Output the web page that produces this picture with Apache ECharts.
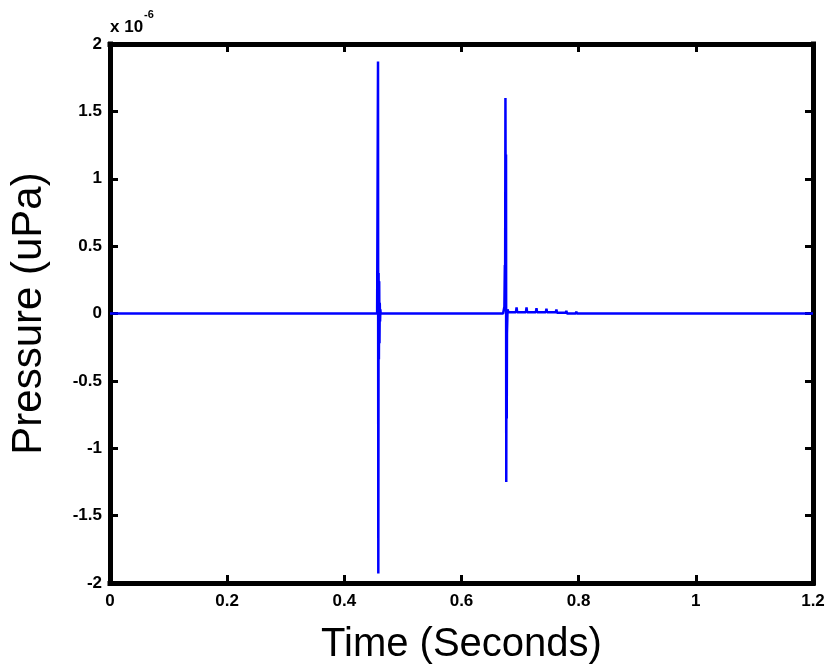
<!DOCTYPE html>
<html><head><meta charset="utf-8">
<script src="https://cdn.jsdelivr.net/npm/echarts@6/dist/echarts.min.js"></script>
<style>html,body{margin:0;padding:0;background:#fff}#c{width:828px;height:670px}</style>
</head><body><div id="c"></div>
<script>
// Time (s) and pressure (x 1e-6 uPa) samples
var timeS = [0, 0.200, 0.2005, 0.201, 0.290, 0.2905, 0.291, 0.4560, 0.4570, 0.4575, 0.4580, 0.4585, 0.4590, 0.4595, 0.4600, 0.4605, 0.4610, 0.4615, 0.4620,
  0.6710, 0.6732, 0.6740, 0.6744, 0.6750, 0.6756, 0.6760, 0.6764, 0.6768, 0.6772, 0.6776, 0.6780, 0.6786, 0.6792, 0.6800, 0.6810,
  0.6930, 0.6940, 0.6950, 0.7100, 0.7110, 0.7120, 0.7270, 0.7280, 0.7290, 0.7440, 0.7450, 0.7460, 0.7610, 0.7620, 0.7630, 0.7780, 0.7790, 0.7800, 0.7950, 0.7960, 0.7970, 0.8500, 0.8510, 0.8520, 1.2];
var pressure = [0, 0, -0.01, 0, 0, -0.01, 0, 0, 0, 1.87, -1.93, 0.30, -0.34, 0.24, -0.22, 0.08, -0.06, 0.03, 0,
  0, 0.05, 0.36, 0.05, 1.60, 0.36, 1.18, -1.25, -0.10, -0.78, -0.15, -0.15, 0.03, 0.03, 0.01, 0.01,
  0.01, 0.045, 0.01, 0.01, 0.045, 0.01, 0.01, 0.04, 0.01, 0.01, 0.035, 0.01, 0.01, 0.03, 0.005, 0.005, 0.02, 0, 0, 0.015, 0, 0, -0.01, 0, 0];
var xTicks = [0, 0.2, 0.4, 0.6, 0.8, 1, 1.2];
var yTicks = [-2, -1.5, -1, -0.5, 0, 0.5, 1, 1.5, 2];

var data = timeS.map(function (t, i) { return [t, pressure[i]]; });
var chart = echarts.init(document.getElementById('c'));
var FF = 'Liberation Sans, Arial, sans-serif';
var tickFont = { fontFamily: FF, fontWeight: 'bold', fontSize: 17, color: '#000' };
var line = { show: true, onZero: false, lineStyle: { color: '#000', width: 5, cap: 'square' } };
var tick = { show: true, inside: true, length: 8, lineStyle: { color: '#000', width: 3 } };
chart.setOption({
  animation: false,
  backgroundColor: '#fff',
  grid: { left: 108, right: 15, top: 44, bottom: 82, containLabel: false },
  xAxis: [{
    type: 'value', min: 0, max: 1.2, interval: 0.2, position: 'bottom',
    name: 'Time (Seconds)', nameLocation: 'middle', nameGap: 42,
    nameTextStyle: { fontFamily: FF, fontSize: 40, color: '#000' },
    axisLine: line, axisTick: tick, splitLine: { show: false },
    axisLabel: Object.assign({ margin: 10, formatter: function (v) { return String(v); } }, tickFont)
  }, {
    type: 'value', min: 0, max: 1.2, interval: 0.2, position: 'top',
    axisLine: line, axisTick: tick, splitLine: { show: false }, axisLabel: { show: false }
  }],
  yAxis: [{
    type: 'value', min: -2, max: 2, interval: 0.5, position: 'left',
    name: 'Pressure (uPa)', nameLocation: 'middle', nameGap: 60, nameRotate: 90,
    nameTextStyle: { fontFamily: FF, fontSize: 42, color: '#000' },
    axisLine: line, axisTick: tick, splitLine: { show: false },
    axisLabel: Object.assign({ margin: 8 }, tickFont)
  }, {
    type: 'value', min: -2, max: 2, interval: 0.5, position: 'right',
    axisLine: line, axisTick: tick, splitLine: { show: false }, axisLabel: { show: false }
  }],
  graphic: [{
    type: 'text', left: 110, top: 9,
    style: {
      text: '{b|x 10}{s|-6}',
      rich: {
        b: { fontFamily: FF, fontWeight: 'bold', fontSize: 17, fill: '#000', verticalAlign: 'bottom', padding: [10, 0, 0, 0] },
        s: { fontFamily: FF, fontWeight: 'bold', fontSize: 11, fill: '#000', verticalAlign: 'top', padding: [0, 0, 10, 1] }
      }
    }
  }],
  series: [{
    type: 'line', data: data, showSymbol: false, symbol: 'none',
    lineStyle: { color: '#0000ff', width: 2.5 }, z: 1
  }]
});
</script></body></html>
